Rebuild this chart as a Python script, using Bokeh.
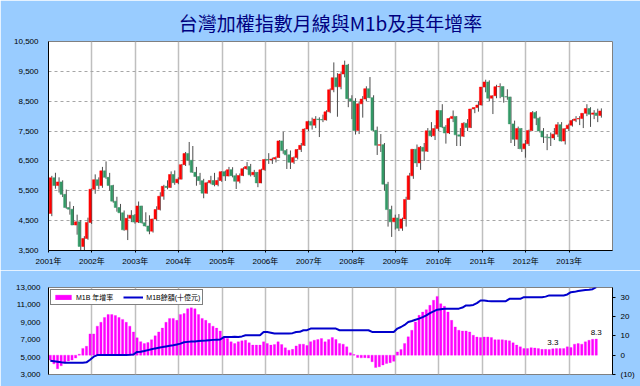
from bokeh.plotting import figure
from bokeh.models import (ColumnDataSource, FixedTicker, NumeralTickFormatter, LinearAxis,
                          Range1d, Legend, LegendItem)
from bokeh.layouts import column
from bokeh.embed import file_html
from bokeh.resources import INLINE
from bokeh.core.properties import value

# ---------------- data ----------------
year_labels = ["2001年", "2002年", "2003年", "2004年", "2005年", "2006年", "2007年",
               "2008年", "2009年", "2010年", "2011年", "2012年", "2013年"]

# TAIEX monthly candles, Jan 2001 .. Sep 2013
opens = [4743, 5936, 5674, 5797, 5381, 4939, 4883, 4352, 4460, 3636, 3903, 4441,
         5551, 5872, 5675, 6167, 5950, 5675, 5153, 4941, 4764, 4192, 4579, 4681,
         4452, 4991, 4432, 4321, 4148, 4555, 4872, 5318, 5650, 5611, 6045, 5771,
         5890, 6375, 6750, 6522, 6117, 5977, 5840, 5420, 5766, 5845, 5706, 5844,
         6140, 5994, 6207, 6006, 5819, 6012, 6241, 6312, 6033, 6118, 5764, 6203,
         6548, 6532, 6561, 6614, 7171, 6846, 6704, 6455, 6611, 6883, 7021, 7567,
         7823, 7699, 7901, 7884, 7875, 8145, 8883, 9287, 8982, 9411, 9711, 8586,
         8506, 7521, 8412, 8572, 8920, 8619, 7524, 7024, 7046, 5720, 4870, 4460,
         4591, 4248, 4557, 5210, 6000, 6891, 6432, 6958, 6826, 7509, 7340, 7582,
         8188, 7640, 7436, 7920, 7992, 7374, 7329, 7761, 7616, 8238, 8287, 8372,
         8973, 9145, 8600, 8683, 8988, 8991, 8652, 8644, 7741, 7225, 7588, 6904,
         7072, 7517, 8121, 7933, 7501, 7301, 7296, 7270, 7397, 7715, 7166, 7581,
         7699, 7850, 7907, 7919, 8094, 8254, 8062, 8108, 8022]
highs = [6000, 6104, 5950, 5850, 5540, 5140, 4990, 4700, 4520, 3980, 4600, 5580,
         6050, 5950, 6300, 6484, 6100, 5700, 5300, 5060, 4840, 4700, 4850, 4720,
         5141, 5000, 4780, 4680, 4570, 4980, 5450, 5700, 5850, 6150, 6180, 5950,
         6400, 6800, 7135, 7000, 6300, 6100, 5900, 5800, 6000, 6100, 5950, 6160,
         6180, 6300, 6290, 6080, 6080, 6290, 6460, 6400, 6200, 6130, 6240, 6570,
         6760, 6610, 6650, 7200, 7476, 6900, 6850, 6650, 6900, 7100, 7600, 7850,
         7950, 8000, 7960, 8050, 8200, 8930, 9800, 9440, 9500, 9859, 9750, 8700,
         8600, 8500, 8670, 9000, 9309, 8700, 7650, 7400, 7100, 5800, 5000, 4700,
         4720, 4600, 5300, 6100, 6900, 7050, 7000, 7100, 7600, 7800, 7700, 8200,
         8400, 7700, 7950, 8190, 8000, 7600, 7800, 7900, 8250, 8300, 8500, 8980,
         9220, 9200, 8700, 9050, 9100, 9000, 8900, 8650, 7850, 7650, 7600, 7200,
         7550, 8170, 8170, 7980, 7600, 7400, 7450, 7600, 7800, 7800, 7600, 7750,
         7900, 8000, 8000, 8100, 8400, 8300, 8200, 8250, 8260]
lows = [4650, 5570, 5440, 5290, 4900, 4700, 4350, 4030, 3411, 3446, 3860, 4390,
        5400, 5550, 5600, 5900, 5500, 5100, 4800, 4500, 4160, 3850, 4450, 4400,
        4420, 4400, 4300, 4044, 4100, 4500, 4840, 5200, 5550, 5600, 5700, 5720,
        5880, 6330, 6350, 6100, 5670, 5700, 5250, 5400, 5720, 5650, 5650, 5800,
        5830, 5980, 5950, 5560, 5750, 5990, 6200, 5980, 5960, 5620, 5750, 6170,
        6400, 6400, 6450, 6600, 6740, 6230, 6230, 6400, 6550, 6800, 7000, 7500,
        7550, 7600, 7300, 7800, 7850, 8100, 8800, 7980, 8900, 9300, 8300, 7900,
        7384, 7400, 7950, 8500, 8600, 7500, 6700, 6800, 5500, 4300, 3955, 4200,
        4150, 4160, 4300, 5200, 5900, 6300, 6200, 6500, 6800, 7300, 7200, 7500,
        7600, 7080, 7400, 7800, 7000, 7000, 7300, 7500, 7600, 8100, 8150, 8350,
        8800, 8500, 8070, 8600, 8600, 8450, 8550, 7100, 7000, 6900, 6800, 6609,
        7000, 7500, 7700, 7450, 7100, 6860, 7000, 7200, 7300, 7150, 7050, 7500,
        7650, 7800, 7700, 7600, 8000, 7640, 7900, 7800, 7950]
closes = [5936, 5674, 5797, 5381, 4939, 4883, 4352, 4460, 3636, 3903, 4441, 5551,
          5872, 5675, 6167, 5950, 5675, 5153, 4941, 4764, 4192, 4579, 4681, 4452,
          4991, 4432, 4321, 4148, 4555, 4872, 5318, 5650, 5611, 6045, 5771, 5890,
          6375, 6750, 6522, 6117, 5977, 5840, 5420, 5766, 5845, 5706, 5844, 6140,
          5994, 6207, 6006, 5819, 6012, 6241, 6312, 6033, 6118, 5764, 6203, 6548,
          6532, 6561, 6614, 7171, 6846, 6704, 6455, 6611, 6883, 7021, 7567, 7823,
          7699, 7901, 7884, 7875, 8145, 8883, 9287, 8982, 9411, 9711, 8586, 8506,
          7521, 8412, 8572, 8920, 8619, 7524, 7024, 7046, 5720, 4870, 4460, 4591,
          4248, 4557, 5210, 6000, 6891, 6432, 6958, 6826, 7509, 7340, 7582, 8188,
          7640, 7436, 7920, 7992, 7374, 7329, 7761, 7616, 8238, 8287, 8372, 8973,
          9145, 8600, 8683, 8988, 8991, 8652, 8644, 7741, 7225, 7588, 6904, 7072,
          7517, 8121, 7933, 7501, 7301, 7296, 7270, 7397, 7715, 7166, 7581, 7699,
          7850, 7907, 7919, 8094, 8254, 8062, 8108, 8022, 8173]

# M1B annual growth (%), Jan 2001 .. Aug 2013
m1b_growth = [-2.5, -4.5, -7.0, -5.5, -4.0, -3.0, -2.5, -1.5, 0.5, 3.5, 4.6, 11.0,
              11.0, 15.0, 17.0, 19.5, 21.0, 21.0, 20.5, 19.5, 18.5, 17.0, 15.0, 12.0,
              9.0, 7.0, 6.0, 6.5, 8.0, 10.0, 12.0, 14.0, 17.0, 19.0, 19.0, 18.0,
              21.0, 21.5, 24.0, 24.5, 24.0, 21.0, 19.0, 18.0, 16.5, 15.0, 14.0, 12.5,
              9.4, 8.6, 6.9, 6.0, 6.9, 7.4, 7.7, 6.4, 5.2, 5.2, 5.2, 6.9,
              6.0, 5.2, 5.5, 6.9, 5.5, 3.8, 2.6, 3.0, 4.8, 5.7, 5.7, 5.0,
              7.0, 7.7, 8.1, 8.6, 6.9, 8.1, 9.1, 8.1, 6.0, 5.7, 4.3, 1.2,
              0.3, -1.2, -1.4, -1.3, -1.5, -3.4, -6.4, -6.0, -5.1, -4.3, -3.9, -3.2,
              1.7, 2.9, 6.0, 9.5, 12.9, 17.2, 20.6, 22.3, 23.5, 25.8, 28.4, 30.4,
              26.6, 25.3, 22.3, 18.0, 14.6, 12.9, 12.5, 12.5, 12.0, 10.3, 9.4, 9.1,
              9.4, 9.4, 9.1, 8.0, 8.0, 8.0, 7.7, 7.4, 6.4, 5.2, 4.3, 3.4,
              3.4, 3.9, 3.7, 3.4, 3.0, 3.0, 2.9, 3.3, 3.4, 3.4, 3.4, 4.3,
              4.0, 5.7, 6.0, 5.7, 6.9, 7.7, 8.2, 8.3]

# M1B balance (NT$ billion), Jan 2001 .. Aug 2013
m1b_balance = [4580, 4530, 4470, 4400, 4360, 4350, 4350, 4350, 4350, 4360, 4400, 4700,
               5050, 5230, 5240, 5230, 5240, 5250, 5240, 5250, 5240, 5250, 5260, 5300,
               5600, 5620, 5700, 5800, 5900, 6000, 6080, 6150, 6230, 6300, 6370, 6450,
               6550, 6700, 6750, 6780, 6800, 6860, 6880, 6900, 6950, 6980, 7000, 7020,
               7300, 7320, 7320, 7330, 7320, 7380, 7510, 7500, 7510, 7520, 7510, 7890,
               7880, 7800, 7720, 7710, 7700, 7710, 7710, 7750, 7890, 7900, 8086, 8100,
               8280, 8280, 8280, 8280, 8280, 8290, 8280, 8280, 8086, 8090, 8086, 8086,
               8090, 8086, 8090, 8086, 8086, 7890, 7890, 7880, 7890, 7890, 7890, 7890,
               8280, 8460, 8700, 9030, 9150, 9300, 9420, 9600, 9800, 10060, 10250, 10450,
               10500, 10550, 10570, 10570, 10570, 10570, 10700, 10940, 10940, 11000, 11200, 11510,
               11500, 11450, 11430, 11430, 11430, 11430, 11430, 11700, 11700, 11700, 11700, 11890,
               11890, 11890, 11890, 11890, 11890, 11950, 12090, 12090, 12090, 12090, 12090, 12200,
               12460, 12500, 12600, 12660, 12700, 12740, 12800, 13040]

labelled_months = [139, 151]          # Aug 2012, Aug 2013 data labels

price_ticks = [3500, 4500, 5500, 6500, 7500, 8500, 9500, 10500]
m1b_ticks = [3000, 5000, 7000, 9000, 11000, 13000]
pct_ticks = [-10, 0, 10, 20, 30]
pct_overrides = {-10: "(10)"}

# ---------------- styling ----------------
BG = "#99CCFF"
NUM_FONT = "'Liberation Sans', 'Noto Sans CJK TC'"
n_months = len(year_labels) * 12
year_ticks = [12 * i for i in range(len(year_labels))]
year_overrides = {12 * i: lab for i, lab in enumerate(year_labels)}

# ---------------- top: candles ----------------
n = len(closes)
xs = [i + 0.5 for i in range(n)]
src = ColumnDataSource(dict(
    x=xs,
    xw=[x + 0.42 for x in xs],
    o=opens, h=highs, l=lows, c=closes,
    top=[max(a, b) for a, b in zip(opens, closes)],
    bottom=[min(a, b) for a, b in zip(opens, closes)],
    color=["#FF0000" if c >= o else "#339966" for o, c in zip(opens, closes)],
))

p1 = figure(width=640, height=270, x_range=Range1d(0, n_months), y_range=Range1d(3500, 10500),
            output_backend="svg", toolbar_location=None,
            min_border_left=48, min_border_right=28, min_border_top=40, min_border_bottom=20,
            background_fill_color="white", border_fill_color=BG,
            outline_line_color="#808080", outline_line_width=1)
p1.title.text = "台灣加權指數月線與M1b及其年增率"
p1.title.align = "center"
p1.title.text_font = "Noto Sans CJK TC"
p1.title.text_font_size = "19px"
p1.title.text_font_style = "normal"
p1.title.text_color = "#000080"
p1.title.standoff = 12
p1.title.offset = -6

p1.segment(x0="xw", y0="l", x1="xw", y1="h", source=src, line_color="#4D4D4D", line_width=1)
p1.vbar(x="x", top="top", bottom="bottom", width=0.62, source=src,
        fill_color="color", line_color="color", line_width=0.5)

p1.xaxis.ticker = FixedTicker(ticks=year_ticks)
p1.xaxis.major_label_overrides = year_overrides
p1.xaxis.major_tick_in = 0
p1.xaxis.major_tick_out = 2
p1.xaxis.minor_tick_line_color = None
p1.xaxis.axis_line_color = "#000000"
p1.xaxis.major_label_text_font = NUM_FONT
p1.xaxis.major_label_text_font_size = "8px"
p1.xaxis.major_label_text_color = "#000000"
p1.xaxis.major_label_standoff = 4

p1.yaxis.ticker = FixedTicker(ticks=price_ticks)
p1.yaxis.formatter = NumeralTickFormatter(format="0,0")
p1.yaxis.major_tick_in = 0
p1.yaxis.major_tick_out = 0
p1.yaxis.minor_tick_line_color = None
p1.yaxis.axis_line_color = "#000000"
p1.yaxis.major_label_text_font = NUM_FONT
p1.yaxis.major_label_text_font_size = "8px"
p1.yaxis.major_label_text_color = "#000000"
p1.yaxis.major_label_standoff = 10

p1.xgrid.ticker = FixedTicker(ticks=year_ticks)
p1.xgrid.grid_line_color = "#BFBFBF"
p1.xgrid.grid_line_width = 1.5
p1.ygrid.ticker = FixedTicker(ticks=price_ticks)
p1.ygrid.grid_line_color = "#A6A6A6"
p1.ygrid.grid_line_dash = "3 3"
p1.ygrid.grid_line_width = 1

# ---------------- bottom: M1B ----------------
m = len(m1b_growth)
src2 = ColumnDataSource(dict(x=[i + 0.5 for i in range(m)], g=m1b_growth, b=m1b_balance))

p2 = figure(width=640, height=116, x_range=Range1d(0, n_months), y_range=Range1d(3000, 13000),
            output_backend="svg", toolbar_location=None,
            min_border_left=44, min_border_right=28, min_border_top=17, min_border_bottom=12,
            background_fill_color="white", border_fill_color=BG,
            outline_line_color="#808080", outline_line_width=1)
p2.extra_y_ranges = {"pct": Range1d(-10, 35)}

bars = p2.vbar(x="x", top="g", bottom=0, width=0.62, source=src2, y_range_name="pct",
               fill_color="#FF00FF", line_color="#FF00FF", line_width=0.3)
line = p2.line(x="x", y="b", source=src2, line_color="#0000CC", line_width=2)

lab_src = ColumnDataSource(dict(
    x=[i + 0.5 for i in labelled_months],
    y=[m1b_growth[i] for i in labelled_months],
    t=["%.1f" % m1b_growth[i] for i in labelled_months],
))
p2.text(x="x", y="y", text="t", source=lab_src, y_range_name="pct",
        text_font=value("Liberation Sans"), text_font_size="8px", text_color="#000000",
        text_align="center", text_baseline="bottom", y_offset=-4)

p2.xaxis.visible = False
p2.xgrid.ticker = FixedTicker(ticks=year_ticks)
p2.xgrid.grid_line_color = "#BFBFBF"
p2.xgrid.grid_line_width = 1.5
p2.ygrid.grid_line_color = None

p2.yaxis.ticker = FixedTicker(ticks=m1b_ticks)
p2.yaxis.formatter = NumeralTickFormatter(format="0,0")
p2.yaxis.major_tick_in = 0
p2.yaxis.major_tick_out = 0
p2.yaxis.minor_tick_line_color = None
p2.yaxis.axis_line_color = "#000000"
p2.yaxis.major_label_text_font = NUM_FONT
p2.yaxis.major_label_text_font_size = "8px"
p2.yaxis.major_label_text_color = "#000000"
p2.yaxis.major_label_standoff = 8

raxis = LinearAxis(y_range_name="pct", ticker=FixedTicker(ticks=pct_ticks),
                   major_label_overrides=pct_overrides)
raxis.major_tick_in = 0
raxis.major_tick_out = 3
raxis.minor_tick_line_color = None
raxis.axis_line_color = "#000000"
raxis.major_label_text_font = NUM_FONT
raxis.major_label_text_font_size = "8px"
raxis.major_label_text_color = "#000000"
raxis.major_label_standoff = 5
p2.add_layout(raxis, "right")

legend = Legend(items=[LegendItem(label="M1B 年增率", renderers=[bars]),
                       LegendItem(label="M1B餘額(十億元)", renderers=[line])],
                orientation="horizontal", location="top_left",
                label_text_font="'Liberation Sans', 'Noto Sans CJK TC'",
                label_text_font_size="7px", label_text_color="#000000",
                glyph_width=20, glyph_height=6, label_standoff=3, spacing=10,
                padding=2, margin=2, label_height=8,
                border_line_color="#000000", border_line_width=1,
                background_fill_color="white", background_fill_alpha=1)
p2.add_layout(legend)

layout = column(p1, p2, spacing=0)
html = file_html(layout, INLINE)
html = html.replace("<body>", '<body style="background-color:%s;">' % BG, 1)
open("out.html", "w").write(html)
